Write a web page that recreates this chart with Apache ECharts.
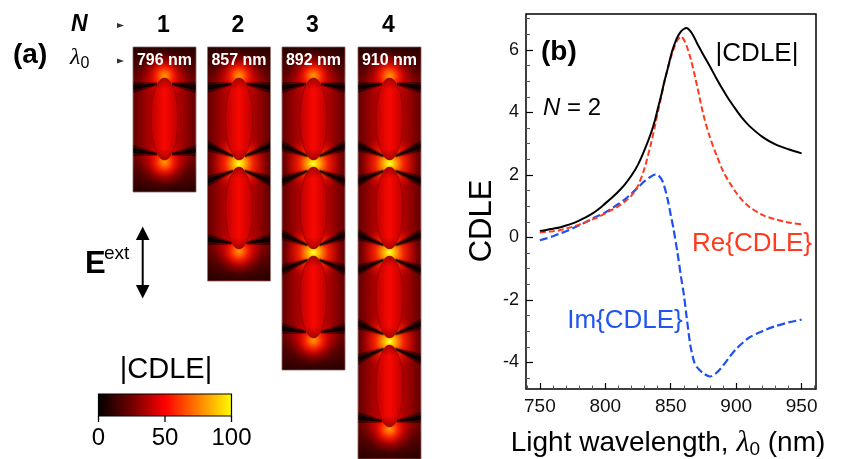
<!DOCTYPE html>
<html>
<head>
<meta charset="utf-8">
<script src="https://cdn.jsdelivr.net/npm/echarts@6/dist/echarts.min.js"></script>
<style>html,body{margin:0;padding:0;background:#fff;}#c{width:846px;height:459px;}</style>
</head>
<body>
<div id="c"></div>
<script>
// ---------------- data ----------------
const WAVELENGTH = [750,755,760,765,770,775,780,785,790,795,800,805,810,815,820,825,830,835,
  838,840,843,845,848,850,852,855,858,860,862,865,868,870,
  875,880,885,890,895,900,905,910,920,930,940,950];
const CDLE_ABS = [0.21,0.24,0.28,0.32,0.38,0.45,0.54,0.64,0.76,0.91,1.09,1.27,1.47,1.70,1.98,2.33,2.80,3.35,
  3.76,4.10,4.60,4.97,5.45,5.80,6.08,6.40,6.60,6.67,6.70,6.60,6.40,6.22,
  5.84,5.47,5.08,4.72,4.38,4.08,3.80,3.57,3.22,2.98,2.82,2.69];
const CDLE_RE = [0.16,0.18,0.20,0.23,0.28,0.34,0.41,0.49,0.57,0.66,0.77,0.88,1.00,1.15,1.34,1.66,2.22,3.02,
  3.58,3.98,4.55,4.95,5.45,5.75,6.00,6.30,6.43,6.33,6.15,5.75,5.25,4.88,
  3.92,3.20,2.63,2.12,1.75,1.43,1.17,0.98,0.72,0.58,0.48,0.42];
const CDLE_IM = [-0.09,-0.03,0.04,0.12,0.20,0.29,0.39,0.49,0.60,0.70,0.80,0.93,1.07,1.22,1.40,1.60,1.80,1.95,
  2.01,2.00,1.86,1.65,1.15,0.72,0.30,-0.45,-1.30,-1.82,-2.50,-3.45,-4.00,-4.15,
  -4.35,-4.45,-4.33,-4.10,-3.82,-3.57,-3.37,-3.20,-3.00,-2.84,-2.72,-2.63];
const X_MAJOR = [750,800,850,900,950];
const X_MINOR = [740,760,770,780,790,810,820,830,840,860,870,880,890,910,920,930,940,960];
const Y_MAJOR = [-4,-2,0,2,4,6];
const Y_MINOR = [-4.5,-3.5,-3,-2.5,-1.5,-1,-0.5,0.5,1,1.5,2.5,3,3.5,4.5,5,5.5,6.5,7];
const N_VALUES = [1,2,3,4];
const LAMBDA_LABELS = ['796 nm','857 nm','892 nm','910 nm'];
const CBAR_TICKS = [0,50,100];

// ---------------- layout ----------------
const FF = '"Liberation Sans", Arial, Helvetica, sans-serif';
const SERIF = '"Liberation Serif", "Times New Roman", serif';
const chart = echarts.init(document.getElementById('c'), null, {renderer:'canvas'});
const LG = echarts.graphic.LinearGradient, RG = echarts.graphic.RadialGradient;

const COL_X = [133, 207.5, 282, 358];
const COL_W = 63, COL_TOP = 47, TIP0 = 31, PITCH = 89, ELL_H = 82, ELL_RX = 13.4;

function stops(arr){ return arr.map(a=>({offset:a[0], color:a[1]})); }

function columnElements(i){
  const n = N_VALUES[i];
  const x0 = COL_X[i], w = COL_W, top = COL_TOP;
  const h = TIP0 + (n-1)*PITCH + ELL_H + TIP0 + 1;
  const cx = x0 + w/2;
  const els = [];
  // base
  els.push({type:'rect', shape:{x:x0,y:top,width:w,height:h}, z:10,
    style:{fill:new LG(0,0,1,0,stops([[0,'#600000'],[0.25,'#a80000'],[0.5,'#cc0000'],[0.75,'#a80000'],[1,'#600000']])),
      stroke:'rgba(150,120,120,0.9)', lineWidth:1}});
  // top / bottom darkening
  els.push({type:'rect', shape:{x:x0+0.5,y:top+0.5,width:w-1,height:TIP0+2}, z:11,
    style:{fill:new LG(0,0,0,1,stops([[0,'rgba(35,0,0,0.95)'],[0.55,'rgba(45,0,0,0.55)'],[1,'rgba(45,0,0,0)']]))}});
  els.push({type:'rect', shape:{x:x0+0.5,y:top+h-TIP0-2.5,width:w-1,height:TIP0+2}, z:11,
    style:{fill:new LG(0,1,0,0,stops([[0,'rgba(35,0,0,0.95)'],[0.55,'rgba(45,0,0,0.55)'],[1,'rgba(45,0,0,0)']]))}});
  const tips = [];
  for(let k=0;k<n;k++){
    const tTop = top + TIP0 + k*PITCH;
    const tBot = tTop + ELL_H;
    tips.push({y:tTop, d:-1, gap:k>0});
    tips.push({y:tBot, d:1, gap:k<n-1});
  }
  // glows
  const endStops = stops([[0,'#ff9a00'],[0.16,'#ff6a00'],[0.38,'rgba(255,30,0,0.9)'],[0.7,'rgba(225,0,0,0.35)'],[1,'rgba(200,0,0,0)']]);
  for(let k=0;k<n;k++){
    const tTop = top + TIP0 + k*PITCH;
    const tBot = tTop + ELL_H;
    if(k===0){
      const c = tTop-2, r = 24;
      els.push({type:'rect', shape:{x:x0+0.5,y:c-r,width:w-1,height:2*r}, z:12,
        style:{fill:new RG(0.5,0.5,0.5,endStops)}});
    }
    if(k===n-1){
      const c = tBot+2, r = 24;
      els.push({type:'rect', shape:{x:x0+0.5,y:c-r,width:w-1,height:2*r}, z:12,
        style:{fill:new RG(0.5,0.5,0.5,endStops)}});
    }
    if(k<n-1){
      const c = tBot + (PITCH-ELL_H)/2, r = 29;
      els.push({type:'rect', shape:{x:x0+0.5,y:c-r,width:w-1,height:2*r}, z:12,
        style:{fill:new RG(0.5,0.5,0.5,stops([[0,'#ffff50'],[0.1,'#ffe000'],[0.26,'#ff9000'],[0.5,'rgba(255,40,0,0.85)'],[1,'rgba(220,0,0,0)']]))}});
    }
  }
  // dark bands
  tips.forEach(t=>{
    [-1,1].forEach(s=>{
      const nx = cx + s*(t.gap?6:7.5), fx = cx + s*(w/2 - 0.5);
      const yn = t.y - t.d*(t.gap?4:6), yf = t.y - t.d*(t.gap?14:9.5);
      els.push({type:'polygon', z:13, shape:{points:[[nx,yn-1.8],[fx,yf-5.5],[fx,yf+5.5],[nx,yn+1.8]]},
        style:{fill:new LG(s>0?0:1,0,s>0?1:0,0,stops([[0,'rgba(0,0,0,0.3)'],[1,'rgba(0,0,0,0.5)']]))}});
      els.push({type:'polygon', z:14, shape:{points:[[nx,yn-0.9],[fx,yf-2.6],[fx,yf+2.6],[nx,yn+0.9]]},
        style:{fill:'rgba(0,0,0,0.8)'}});
    });
  });
  // particles
  for(let k=0;k<n;k++){
    const cy = top + TIP0 + k*PITCH + ELL_H/2;
    els.push({type:'ellipse', z:15, shape:{cx:cx, cy:cy, rx:ELL_RX, ry:ELL_H/2},
      style:{fill:new LG(0,0,1,0,stops([[0,'#bc0000'],[0.5,'#f80800'],[1,'#bc0000']])), stroke:'rgba(80,0,0,0.4)', lineWidth:0.8}});
    els.push({type:'ellipse', z:16, shape:{cx:cx, cy:cy, rx:ELL_RX, ry:ELL_H/2},
      style:{fill:new LG(0,0,0,1,stops([[0,'rgba(100,0,0,0.55)'],[0.14,'rgba(100,0,0,0)'],[0.86,'rgba(100,0,0,0)'],[1,'rgba(100,0,0,0.55)']]))}});
  }
  // labels
  els.push({type:'text', z:30, x:cx, y:top+14, style:{text:LAMBDA_LABELS[i], font:'bold 16px '+FF, fill:'#fff', align:'center', verticalAlign:'middle'}});
  els.push({type:'text', z:30, x:cx-1, y:26, style:{text:String(N_VALUES[i]), font:'bold 23px '+FF, fill:'#000', align:'center', verticalAlign:'middle'}});
  return els;
}

const graphics = [];
for(let i=0;i<N_VALUES.length;i++) graphics.push(...columnElements(i));

function T(x,y,text,font,fill,align,extra){
  return Object.assign({type:'text', z:40, x:x, y:y, style:{text:text, font:font, fill:fill||'#000', align:align||'center', verticalAlign:'middle'}}, extra||{});
}
// panel (a) labels
graphics.push(T(13,55,'(a)','bold 28px '+FF,'#000','left'));
graphics.push(T(71,25,'N','italic bold 23px '+FF,'#000','left'));
graphics.push({type:'text', z:40, x:70, y:58, style:{text:'{l|λ}{s|0}', align:'left', verticalAlign:'middle',
  rich:{l:{font:'italic 24px '+SERIF, fill:'#000', lineHeight:28, verticalAlign:'middle'},
        s:{font:'16px '+FF, fill:'#000', lineHeight:16, verticalAlign:'bottom'}}}});
graphics.push({type:'polygon', z:40, shape:{points:[[117,23],[124,25.5],[117,28]]}, style:{fill:'#333'}});
graphics.push({type:'polygon', z:40, shape:{points:[[117,58.5],[124,61],[117,63.5]]}, style:{fill:'#333'}});
// E ext
graphics.push(T(85,264,'E','bold 31px '+FF,'#000','left'));
graphics.push(T(104,254,'ext','19px '+FF,'#000','left'));
graphics.push({type:'line', z:40, shape:{x1:142.7,y1:236,x2:142.7,y2:290}, style:{stroke:'#000', lineWidth:2}});
graphics.push({type:'polygon', z:40, shape:{points:[[142.7,226.5],[149.5,240],[135.9,240]]}, style:{fill:'#000'}});
graphics.push({type:'polygon', z:40, shape:{points:[[142.7,298.5],[149.5,285],[135.9,285]]}, style:{fill:'#000'}});
// colour bar
const CB = {x:98.5, y:394, w:133, h:22};
graphics.push(T(CB.x+CB.w/2+1,370,'|CDLE|','29px '+FF,'#000','center'));
graphics.push({type:'rect', z:40, shape:{x:CB.x,y:CB.y,width:CB.w,height:CB.h},
  style:{fill:new LG(0,0,1,0,stops([[0,'#000000'],[0.25,'#700000'],[0.5,'#ff0000'],[0.75,'#ff8000'],[1,'#ffff00']])), stroke:'#000', lineWidth:1.2}});
CBAR_TICKS.forEach(v=>{
  const x = CB.x + CB.w*v/100;
  graphics.push({type:'line', z:41, shape:{x1:x,y1:CB.y+CB.h,x2:x,y2:CB.y+CB.h+6}, style:{stroke:'#000', lineWidth:1.3}});
  graphics.push(T(x,438,String(v),'24px '+FF,'#000','center'));
});
// panel (b) texts
graphics.push(T(541,52,'(b)','bold 28px '+FF,'#000','left'));
graphics.push({type:'text', z:40, x:543, y:108, style:{text:'{i|N}{n| = 2}', align:'left', verticalAlign:'middle',
  rich:{i:{font:'italic 24px '+FF, fill:'#000'}, n:{font:'24px '+FF, fill:'#000'}}}});
graphics.push(T(757,54,'|CDLE|','26px '+FF,'#000','center'));
graphics.push(T(752,244,'Re{CDLE}','26px '+FF,'#ff3a1e','center'));
graphics.push(T(625,321,'Im{CDLE}','26px '+FF,'#2255ee','center'));
graphics.push(T(482,221,'CDLE','31px '+FF,'#000','center',{rotation:Math.PI/2}));
graphics.push({type:'text', z:40, x:668, y:443, style:{text:'{n|Light wavelength, }{l|λ}{s|0}{n| (nm)}', align:'center', verticalAlign:'middle',
  rich:{n:{font:'28px '+FF, fill:'#000', lineHeight:32, verticalAlign:'middle'},
        l:{font:'italic 30px '+SERIF, fill:'#000', lineHeight:32, verticalAlign:'middle'},
        s:{font:'19px '+FF, fill:'#000', lineHeight:19, verticalAlign:'bottom'}}}});

const X_MIN = 739.4, X_MAX = 961, Y_MIN = -4.85, Y_MAX = 7.15;
function pairs(vals){ return WAVELENGTH.map((x,i)=>[x, vals[i]]); }
const noLine = {show:false, onZero:false};

const option = {
  animation:false,
  backgroundColor:'#ffffff',
  grid:{left:526, top:14, width:290, height:375, show:true, borderColor:'#000', borderWidth:1.5, backgroundColor:'rgba(0,0,0,0)', containLabel:false},
  xAxis:[
    {type:'value', min:X_MIN, max:X_MAX, position:'bottom', axisLine:noLine, splitLine:{show:false},
      axisTick:{show:true, inside:true, length:6, lineStyle:{color:'#000', width:1.2}, customValues:X_MAJOR},
      axisLabel:{show:true, customValues:X_MAJOR, fontSize:19, fontFamily:FF, color:'#111', margin:8}},
    {type:'value', min:X_MIN, max:X_MAX, position:'bottom', axisLine:noLine, splitLine:{show:false},
      axisTick:{show:true, inside:true, length:3.5, lineStyle:{color:'#555', width:1}, customValues:X_MINOR},
      axisLabel:{show:false}}
  ],
  yAxis:[
    {type:'value', min:Y_MIN, max:Y_MAX, position:'left', axisLine:noLine, splitLine:{show:false},
      axisTick:{show:true, inside:true, length:7, lineStyle:{color:'#000', width:1.2}, customValues:Y_MAJOR},
      axisLabel:{show:true, customValues:Y_MAJOR, fontSize:18, fontFamily:FF, color:'#111', margin:7}},
    {type:'value', min:Y_MIN, max:Y_MAX, position:'left', axisLine:noLine, splitLine:{show:false},
      axisTick:{show:true, inside:true, length:4, lineStyle:{color:'#555', width:1}, customValues:Y_MINOR},
      axisLabel:{show:false}}
  ],
  series:[
    {type:'line', name:'Re', xAxisIndex:0, yAxisIndex:0, data:pairs(CDLE_RE), smooth:0.3, showSymbol:false, z:3,
      lineStyle:{color:'#ff3a1e', width:2, type:[6,3]}},
    {type:'line', name:'Im', xAxisIndex:0, yAxisIndex:0, data:pairs(CDLE_IM), smooth:0.3, showSymbol:false, z:2,
      lineStyle:{color:'#1f50f0', width:2.2, type:[8,3.5]}},
    {type:'line', name:'Abs', xAxisIndex:0, yAxisIndex:0, data:pairs(CDLE_ABS), smooth:0.3, showSymbol:false, z:4,
      lineStyle:{color:'#000', width:2}}
  ],
  graphic:{elements:graphics}
};
chart.setOption(option);
</script>
</body>
</html>
